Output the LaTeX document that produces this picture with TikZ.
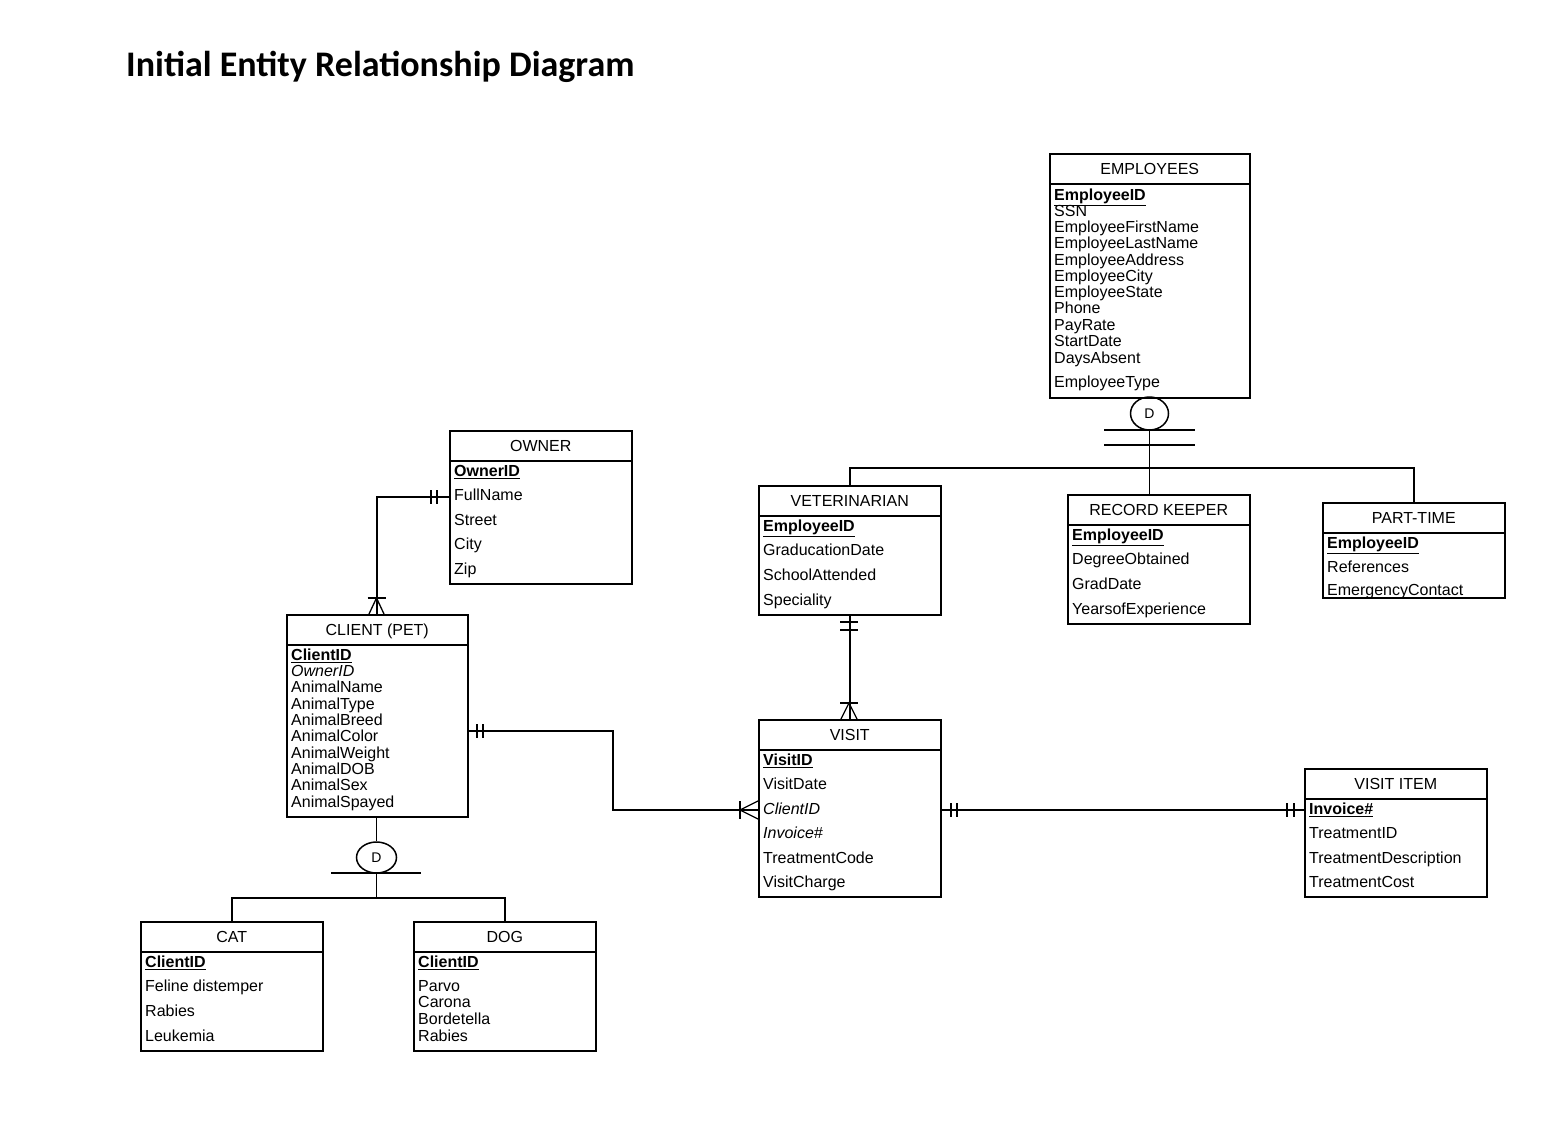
\documentclass[tikz,border=0pt]{standalone}
\usepackage{fontspec}
\setmainfont{Liberation Sans}
\newfontfamily\titlefont{Carlito}
\usetikzlibrary{shapes.geometric}
\newcommand\pkey[1]{\underline{\textbf{#1}}}
\tikzset{
  ent/.style={draw, line width=1.5pt, inner sep=0pt, anchor=north west},
  conn/.style={line width=1.6pt},
  sym/.style={line width=1.3pt},
  attr/.style={anchor=base west, inner sep=0pt, font=\fontsize{16}{18}\selectfont},
  hdr/.style={anchor=base, inner sep=0pt, font=\fontsize{16}{18}\selectfont},
  dnode/.style={draw, ellipse, line width=1.5pt, inner sep=0pt, minimum width=38pt, minimum height=33pt, font=\fontsize{14}{16}\selectfont},
}
% #1 name, #2 x, #3 y, #4 width, #5 height, #6 title
\newcommand\erbox[6]{%
  \node[ent, minimum width=#4pt, minimum height=#5pt] (#1) at (#2,#3) {};
  \draw[conn] ([yshift=-31pt]#1.north west) -- ([yshift=-31pt]#1.north east);
  \node[hdr] (#1-title) at ([yshift=-21pt]#1.north) {#6};
}
\begin{document}
\begin{tikzpicture}[x=1pt,y=-1pt]
\useasboundingbox (0,0) rectangle (1541,1140);
\fill[white] (0,0) rectangle (1541,1140);

\node[anchor=base west, inner sep=0pt, font=\titlefont\bfseries\fontsize{36}{40}\selectfont] (title) at (126,76) {Initial Entity Relationship Diagram};

% EMPLOYEES
\erbox{emp}{1049}{153}{200}{244}{EMPLOYEES}
\foreach \yy/\txt [count=\i] in {195/\pkey{EmployeeID}, 211/SSN, 227/EmployeeFirstName, 243/EmployeeLastName, 260/EmployeeAddress, 276/EmployeeCity, 292/EmployeeState, 308/Phone, 325/PayRate, 341/StartDate, 358/DaysAbsent, 382/EmployeeType}
  \node[attr] (emp-\i) at (1054,\yy+5.5) {\txt};

% VETERINARIAN
\erbox{vet}{758}{485}{182}{129}{VETERINARIAN}
\foreach \yy/\txt [count=\i] in {526/\pkey{EmployeeID}, 550/GraducationDate, 575/SchoolAttended, 600/Speciality}
  \node[attr] (vet-\i) at (763,\yy+5.5) {\txt};

% RECORD KEEPER
\erbox{rk}{1067}{494}{182}{129}{RECORD KEEPER}
\foreach \yy/\txt [count=\i] in {535/\pkey{EmployeeID}, 559/DegreeObtained, 584/GradDate, 609/YearsofExperience}
  \node[attr] (rk-\i) at (1072,\yy+5.5) {\txt};

% PART-TIME
\erbox{pt}{1322}{502}{182}{95}{PART-TIME}
\foreach \yy/\txt [count=\i] in {543/\pkey{EmployeeID}, 567/References, 590/EmergencyContact}
  \node[attr] (pt-\i) at (1327,\yy+5.5) {\txt};

% OWNER
\erbox{owner}{449}{430}{182}{153}{OWNER}
\foreach \yy/\txt [count=\i] in {471/\pkey{OwnerID}, 495/FullName, 520/Street, 544/City, 569/Zip}
  \node[attr] (owner-\i) at (454,\yy+5.5) {\txt};

% CLIENT (PET)
\erbox{client}{286}{614}{181}{202}{CLIENT (PET)}
\foreach \yy/\txt [count=\i] in {655/\pkey{ClientID}, 671/\textit{OwnerID}, 687/AnimalName, 704/AnimalType, 720/AnimalBreed, 736/AnimalColor, 753/AnimalWeight, 769/AnimalDOB, 785/AnimalSex, 802/AnimalSpayed}
  \node[attr] (client-\i) at (291,\yy+5.5) {\txt};

% CAT
\erbox{cat}{140}{921}{182}{129}{CAT}
\foreach \yy/\txt [count=\i] in {962/\pkey{ClientID}, 986/Feline distemper, 1011/Rabies, 1036/Leukemia}
  \node[attr] (cat-\i) at (145,\yy+5.5) {\txt};

% DOG
\erbox{dog}{413}{921}{182}{129}{DOG}
\foreach \yy/\txt [count=\i] in {962/\pkey{ClientID}, 986/Parvo, 1002/Carona, 1019/Bordetella, 1036/Rabies}
  \node[attr] (dog-\i) at (418,\yy+5.5) {\txt};

% VISIT
\erbox{visit}{758}{719}{182}{177}{VISIT}
\foreach \yy/\txt [count=\i] in {760/\pkey{VisitID}, 784/VisitDate, 809/\textit{ClientID}, 833/\textit{Invoice\#}, 858/TreatmentCode, 882/VisitCharge}
  \node[attr] (visit-\i) at (763,\yy+5.5) {\txt};

% VISIT ITEM
\erbox{vi}{1304}{768}{182}{128}{VISIT ITEM}
\foreach \yy/\txt [count=\i] in {809/\pkey{Invoice\#}, 833/TreatmentID, 858/TreatmentDescription, 882/TreatmentCost}
  \node[attr] (vi-\i) at (1309,\yy+5.5) {\txt};

% ---- Employee disjoint subtype ----
\node[dnode] (d1) at (1149.5,413.5) {D};
\coordinate (j1) at (1149.5,468);
\draw[conn] (d1.south) -- (j1);
\draw[conn] (vet.north) |- (j1) -| (pt.north);
\draw[conn] (j1) -- (j1 |- rk.north);
\draw[sym] (1104,430) -- (1195,430);
\draw[sym] (1104,445) -- (1195,445);

% ---- Client disjoint subtype ----
\node[dnode, minimum width=40pt, minimum height=31pt] (d2) at (376.5,857.5) {D};
\coordinate (j2) at (376.5,898);
\draw[conn] (d2.north |- client.south) -- (d2.north);
\draw[conn] (d2.south) -- (j2);
\draw[conn] (cat.north) |- (j2) -| (dog.north);
\draw[sym] (331,873) -- (421,873);

% ---- OWNER -- CLIENT ----
\draw[conn] ([yshift=-67pt]owner.north west) -| (client.north);
\draw[sym] (431,490) -- (431,504);
\draw[sym] (437,490) -- (437,504);
\draw[sym] (367.5,598) -- (385.5,598);
\draw[sym] (369,614) -- (376.5,598) -- (384,614);

% ---- CLIENT -- VISIT ----
\draw[conn] ([yshift=-117pt]client.north east) -- (613,731) -- (613,810) -- ([yshift=-91pt]visit.north west);
\draw[sym] (477,724) -- (477,738);
\draw[sym] (483,724) -- (483,738);
\draw[sym] (740,801) -- (740,819);
\draw[sym] (758,801) -- (740,810) -- (758,819);

% ---- VETERINARIAN -- VISIT ----
\draw[conn] (vet.south) -- (visit.north);
\draw[sym] (840,622) -- (858,622);
\draw[sym] (840,630) -- (858,630);
\draw[sym] (840,703) -- (858,703);
\draw[sym] (841,719) -- (849,703) -- (857,719);

% ---- VISIT -- VISIT ITEM ----
\draw[conn] ([yshift=-91pt]visit.north east) -- ([yshift=-42pt]vi.north west);
\draw[sym] (951,803) -- (951,817);
\draw[sym] (957,803) -- (957,817);
\draw[sym] (1287,803) -- (1287,817);
\draw[sym] (1294,803) -- (1294,817);
\end{tikzpicture}
\end{document}
